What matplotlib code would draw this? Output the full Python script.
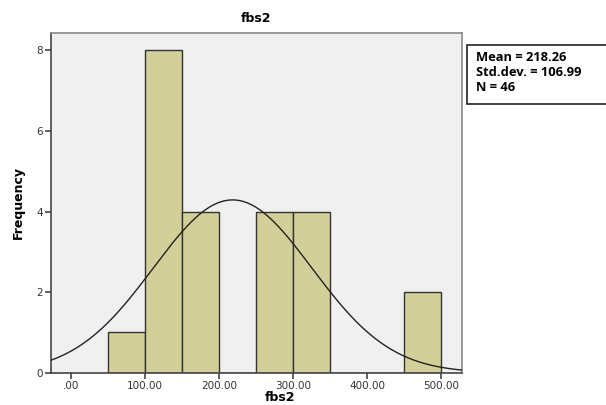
import numpy as np
import matplotlib.pyplot as plt
from matplotlib.patches import Rectangle

# histogram bins (fbs2) and their frequencies
bin_edges = [50, 100, 150, 200, 250, 300, 350, 400, 450, 500]
counts = [1, 8, 4, 0, 4, 4, 0, 0, 2]
mean_val = 218.26
sd_val = 106.99
n_val = 46
xticks = [0, 100, 200, 300, 400, 500]
xtick_labels = [".00", "100.00", "200.00", "300.00", "400.00", "500.00"]
yticks = [0, 2, 4, 6, 8]

fig = plt.figure(figsize=(6.06, 4.05), dpi=100)
ax = fig.add_axes([0.0842, 0.0798, 0.678, 0.8387])
ax.set_facecolor("#f0f0f0")

lefts = bin_edges[:-1]
widths = np.diff(bin_edges)
ax.bar(lefts, counts, width=widths, align="edge", color="#d3cf98",
       edgecolor="#333333", linewidth=1.0, zorder=2)

# normal curve scaled to the histogram
binw = widths[0]
xs = np.linspace(-27, 528, 400)
ys = sum(counts) * binw * np.exp(-0.5 * ((xs - mean_val) / sd_val) ** 2) / (sd_val * np.sqrt(2 * np.pi))
ax.plot(xs, ys, color="#222222", linewidth=1.0, zorder=3)

ax.set_xlim(-27, 528)
ax.set_ylim(0, 8.43)
ax.set_xticks(xticks)
ax.set_xticklabels(xtick_labels, fontsize=7.5, color="#333333")
ax.set_yticks(yticks)
ax.set_yticklabels([str(v) for v in yticks], fontsize=7.5, color="#333333")
ax.tick_params(axis="both", direction="out", length=4, width=1.2, color="#444444", pad=2)

for s in ax.spines.values():
    s.set_color("#888888")
    s.set_linewidth(1.2)
ax.spines["left"].set_color("#444444")
ax.spines["bottom"].set_color("#444444")

ax.set_title("fbs2", fontsize=9, fontweight="bold", pad=8)
ax.set_ylabel("Frequency", fontsize=9, fontweight="bold", labelpad=8)
fig.text(0.462, 0.003, "fbs2", ha="center", va="bottom", fontsize=9, fontweight="bold")

# stats box (runs off the right edge like the original)
fig.patches.append(Rectangle((0.7706, 0.743), 0.25, 0.146, transform=fig.transFigure,
                             facecolor="white", edgecolor="#222222", linewidth=1.2))
stats = ["Mean = %.2f" % mean_val, "Std.dev. = %.2f" % sd_val, "N = %d" % n_val]
for i, line in enumerate(stats):
    fig.text(0.785, 0.859 - i * 0.037, line, ha="left", va="center",
             fontsize=9.3, fontweight="bold", family="Open Sans")

plt.savefig("out.png", dpi=100)
